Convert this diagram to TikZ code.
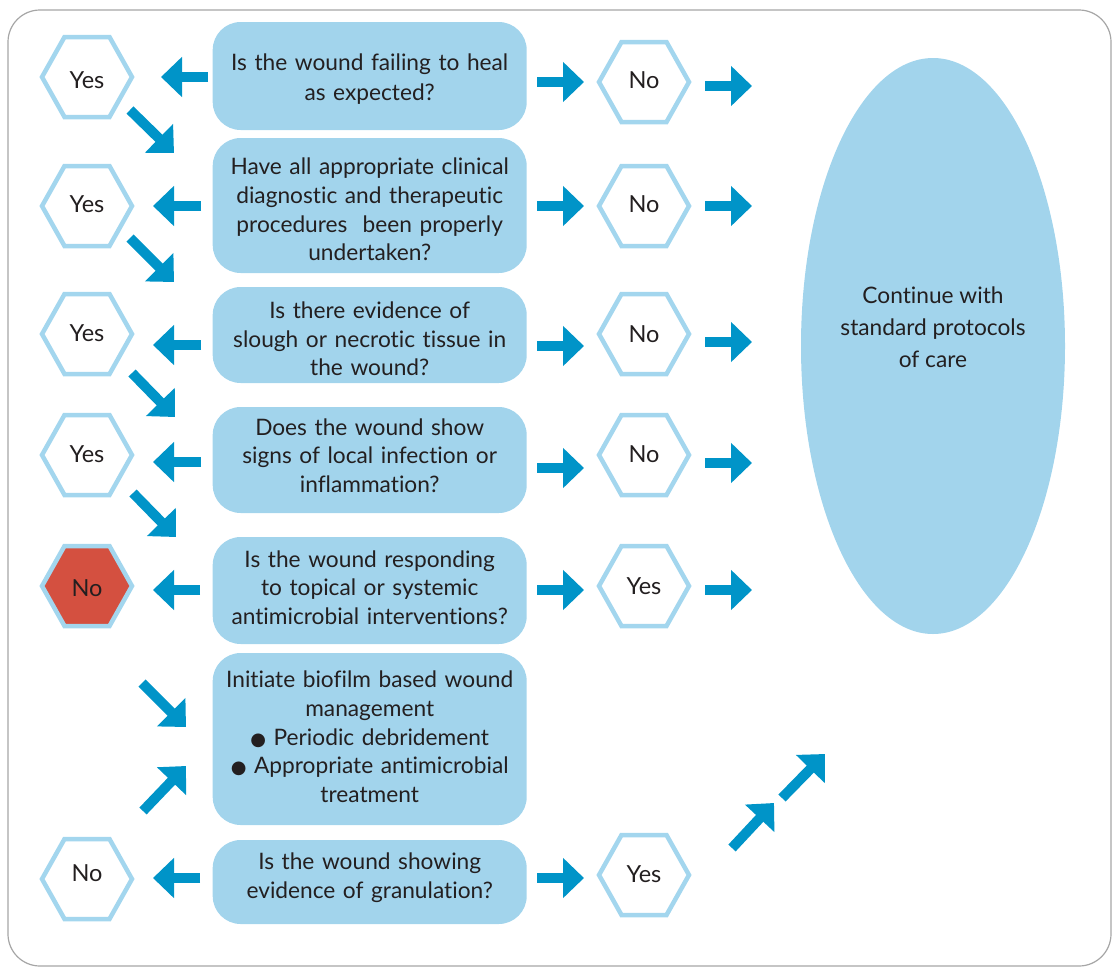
\documentclass[tikz,border=0pt]{standalone}
\usepackage{fontspec}
\setmainfont{Lato}[Ligatures={NoCommon}]
\newfontfamily\djv{DejaVu Sans}
\usetikzlibrary{arrows.meta,shapes.geometric}
\definecolor{boxblue}{HTML}{A2D4EC}
\definecolor{hexblue}{HTML}{A3D6EE}
\definecolor{arrblue}{HTML}{0094C8}
\definecolor{hexred}{HTML}{D45040}
\definecolor{ink}{HTML}{231F20}
\definecolor{framegray}{HTML}{A6A6A6}
% #1 name, #2 x, #3 y (hexagon centre), #4 label y (cap centre), #5 label, #6 fill
\newcommand\hexnode[6]{%
  \filldraw[draw=hexblue, line width=4.5pt, fill=#6, line join=miter]
    (#2-45,#3) -- (#2-22.5,#3-40) -- (#2+22.5,#3-40) -- (#2+45,#3)
    -- (#2+22.5,#3+40) -- (#2-22.5,#3+40) -- cycle;
  \node[hexlabel] (#1) at (#2,#4+8.4) {#5};
}
\newcommand\bul{{\djv\fontsize{18}{20}\selectfont ●}}
\begin{document}
\begin{tikzpicture}[x=1pt,y=-1pt,
  qbox/.style={fill=boxblue, rounded corners=28pt, minimum width=314pt, inner sep=0pt},
  qtext/.style={text width=310pt, align=center, text=ink,
    font=\fontsize{22.7}{28.7}\selectfont, inner sep=0pt},
  hexlabel/.style={text=ink, font=\fontsize{23.5}{28}\selectfont, anchor=base, inner sep=0pt},
  flow/.style={draw=arrblue, line width=10pt, -{Triangle[length=21pt,width=39pt]}},
]
\useasboundingbox (0,0) rectangle (1112,967);
\draw[framegray, line width=1.2pt, rounded corners=32pt] (8,10) rectangle (1111,966);

% question boxes
\node[qbox, minimum height=108pt] (q1) at (369.7,76) {};
\node[qbox, minimum height=135pt] (q2) at (369.7,205.5) {};
\node[qbox, minimum height=96pt] (q3) at (369.7,335) {};
\node[qbox, minimum height=106pt] (q4) at (369.7,460) {};
\node[qbox, minimum height=107pt] (q5) at (369.7,590.5) {};
\node[qbox, minimum height=172pt] (q6) at (369.7,739) {};
\node[qbox, minimum height=84pt] (q7) at (369.7,882) {};

\node[qtext, font=\fontsize{22.7}{29.8}\selectfont] (q1t) at (369.7,79) {Is the wound failing to heal\\ as expected?};
\node[qtext] (q2t) at (369.7,209.5) {Have all appropriate clinical\\ diagnostic and therapeutic\\ procedures\ \ been properly\\ undertaken?};
\node[qtext] (q3t) at (369.7,339) {Is there evidence of\\ slough or necrotic tissue in\\ the wound?};
\node[qtext] (q4t) at (369.7,455.5) {Does the wound show\\ signs of local infection or\\ inflammation?};
\node[qtext] (q5t) at (369.7,587.5) {Is the wound responding\\ to topical or systemic\\ antimicrobial interventions?};
\node[qtext] (q6t) at (369.7,737) {Initiate biofilm based wound\\ management\\ \bul\ Periodic debridement\\ \bul\ Appropriate antimicrobial\\ treatment};
\node[qtext] (q7t) at (369.7,878) {Is the wound showing\\ evidence of granulation?};

% outcome ellipse
\node[ellipse, fill=boxblue, minimum width=264pt, minimum height=576pt, inner sep=0pt] (care) at (933,346) {};
\node[text=ink, align=center, font=\fontsize{22.7}{32}\selectfont] (caretext) at (933,327) {Continue with\\ standard protocols\\ of care};

% hexagons, left
\hexnode{l1}{87}{77}{80}{Yes}{white}
\hexnode{l2}{87}{206}{204}{Yes}{white}
\hexnode{l3}{87}{334}{333}{Yes}{white}
\hexnode{l4}{87}{455}{454}{Yes}{white}
\hexnode{l5}{87}{586}{588}{No}{hexred}
\hexnode{l7}{87}{879}{873}{No}{white}
% hexagons, right
\hexnode{r1}{644}{82}{80}{No}{white}
\hexnode{r2}{644}{206}{204}{No}{white}
\hexnode{r3}{644}{334}{334}{No}{white}
\hexnode{r4}{644}{455}{454}{No}{white}
\hexnode{r5}{644}{586}{586}{Yes}{white}
\hexnode{r7}{644}{875}{874}{Yes}{white}

% arrow end points
\coordinate (a1s) at (208,77);  \coordinate (a1e) at (161,77);
\coordinate (b1s) at (537,82);  \coordinate (b1e) at (584,82);
\coordinate (c1s) at (705,86);  \coordinate (c1e) at (752,86);
\coordinate (a2s) at (201,206); \coordinate (a2e) at (153,206);
\coordinate (b2s) at (537,206); \coordinate (b2e) at (584,206);
\coordinate (c2s) at (705,206); \coordinate (c2e) at (752,206);
\coordinate (a3s) at (201,345); \coordinate (a3e) at (153,345);
\coordinate (b3s) at (537,346); \coordinate (b3e) at (584,346);
\coordinate (c3s) at (705,342); \coordinate (c3e) at (752,342);
\coordinate (a4s) at (201,462); \coordinate (a4e) at (153,462);
\coordinate (b4s) at (537,468); \coordinate (b4e) at (584,468);
\coordinate (c4s) at (705,463); \coordinate (c4e) at (752,463);
\coordinate (a5s) at (200,590); \coordinate (a5e) at (153,590);
\coordinate (b5s) at (537,590); \coordinate (b5e) at (584,590);
\coordinate (c5s) at (705,590); \coordinate (c5e) at (752,590);
\coordinate (a7s) at (200,878); \coordinate (a7e) at (153,878);
\coordinate (b7s) at (537,878); \coordinate (b7e) at (584,878);
\coordinate (d1s) at (130,110); \coordinate (d1e) at (174,153);
\coordinate (d2s) at (130,238); \coordinate (d2e) at (174,282);
\coordinate (d3s) at (132,373); \coordinate (d3e) at (175,417);
\coordinate (d4s) at (133,493); \coordinate (d4e) at (176,537);
\coordinate (d5s) at (142,683); \coordinate (d5e) at (186,727);
\coordinate (d6s) at (143,811); \coordinate (d6e) at (186,766);
\coordinate (e1s) at (732,848); \coordinate (e1e) at (774,803);
\coordinate (e2s) at (782,798); \coordinate (e2e) at (825,754);

\foreach \n in {1,2,3,4,5} {
  \draw[flow] (a\n s) -- (a\n e);
  \draw[flow] (b\n s) -- (b\n e);
  \draw[flow] (c\n s) -- (c\n e);
}
\draw[flow] (a7s) -- (a7e);
\draw[flow] (b7s) -- (b7e);
\foreach \n in {1,...,6} { \draw[flow] (d\n s) -- (d\n e); }
\draw[flow] (e1s) -- (e1e);
\draw[flow] (e2s) -- (e2e);
\end{tikzpicture}
\end{document}
